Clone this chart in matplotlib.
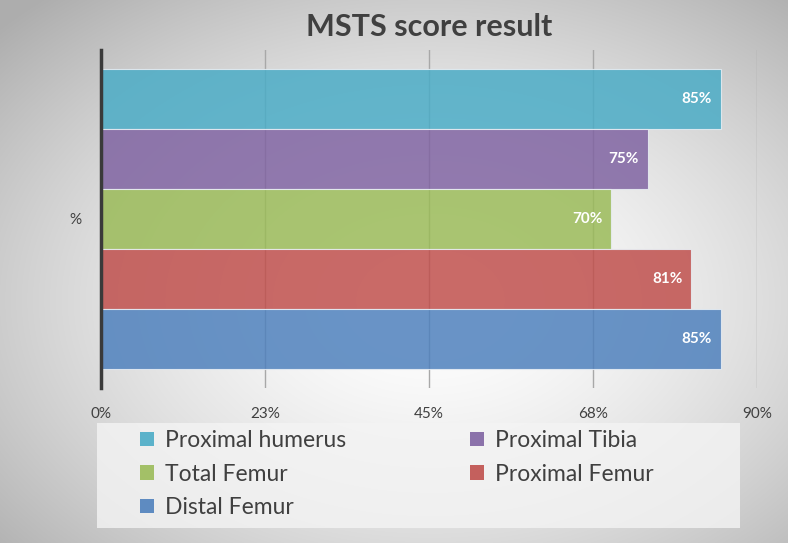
import numpy as np
import matplotlib
matplotlib.use("Agg")
import matplotlib.pyplot as plt
from matplotlib.patches import Patch

plt.rcParams['font.family'] = ['Lato', 'DejaVu Sans']

series = ["Proximal humerus", "Proximal Tibia", "Total Femur", "Proximal Femur", "Distal Femur"]
values = [85, 75, 70, 81, 85]
labels = ["85%", "75%", "70%", "81%", "85%"]
colors = ["#4BACC6", "#8064A2", "#9BBB59", "#C0504D", "#4F81BD"]
category = "%"
xticks = [0, 22.5, 45, 67.5, 90]
xticklabels = ["0%", "23%", "45%", "68%", "90%"]

W, H = 788, 543
fig = plt.figure(figsize=(W / 100, H / 100), dpi=100)

# radial gradient background
bg = fig.add_axes([0, 0, 1, 1], zorder=-10)
yy, xx = np.mgrid[0:H, 0:W]
cx, cy = 430, 300
r = np.sqrt(((xx - cx) / (W * 0.62)) ** 2 + ((yy - cy) / (H * 0.62)) ** 2)
val = 1.0 - 0.24 * np.clip(r, 0, 1.2) ** 1.6
img = np.dstack([val, val, val])
bg.imshow(img, extent=[0, W, H, 0], aspect='auto')
bg.axis('off')

ax = fig.add_axes([101 / W, 1 - 388 / H, (757 - 101) / W, (388 - 50) / H])
ax.patch.set_alpha(0)

n = len(series)
group = 0.885
h = group / n
for i, (s, v, lab, c) in enumerate(zip(series, values, labels, colors)):
    y = group / 2 - h / 2 - i * h
    ax.barh(y, v, height=h, color=c, alpha=0.85, edgecolor="#e8eef4", linewidth=0.8, zorder=3, label=s)
    ax.text(v - 1.2, y, lab, ha='right', va='center', color='white', fontsize=11, fontweight='bold', zorder=4)

ax.set_xlim(0, 90)
ax.set_ylim(-0.5, 0.5)
ax.set_xticks(xticks)
ax.set_xticklabels(xticklabels, fontsize=11, color='#404040')
ax.set_yticks([0])
ax.set_yticklabels([category], fontsize=11, color='#404040')
ax.tick_params(axis='both', length=0, pad=14)
ax.xaxis.grid(True, color='#a8a8a8', linewidth=1, zorder=0)
ax.set_axisbelow(True)
for sp in ['top', 'right', 'bottom']:
    ax.spines[sp].set_visible(False)
ax.spines['left'].set_color('#3a3a3a')
ax.spines['left'].set_linewidth(2.5)
ax.spines['left'].set_zorder(5)

fig.text(429 / W, 1 - 27 / H, "MSTS score result", ha='center', va='center',
         fontsize=22, fontweight='bold', color='#404040')

# legend box
bx0, by0, bx1, by1 = 97, 423, 740, 528
box = fig.add_axes([bx0 / W, 1 - by1 / H, (bx1 - bx0) / W, (by1 - by0) / H])
box.set_xticks([]); box.set_yticks([])
box.patch.set_facecolor('#f4f4f4'); box.patch.set_alpha(0.8)
for sp in box.spines.values():
    sp.set_visible(False)
handles = [Patch(facecolor=c, edgecolor='none', alpha=0.9) for c in colors]
# row-wise ordering for a 2-column legend
order = [0, 2, 4, 1, 3]
leg = box.legend([handles[k] for k in order], [series[k] for k in order], ncol=2,
                 loc='upper left', bbox_to_anchor=((140 - bx0) / (bx1 - bx0), 1 - 7 / (by1 - by0)),
                 borderaxespad=0, borderpad=0,
                 frameon=False, fontsize=16.5, labelcolor='#404040', handlelength=0.6,
                 handleheight=0.6, handletextpad=0.5, columnspacing=5.4, labelspacing=0.55)

fig.savefig("out.png", dpi=100)
